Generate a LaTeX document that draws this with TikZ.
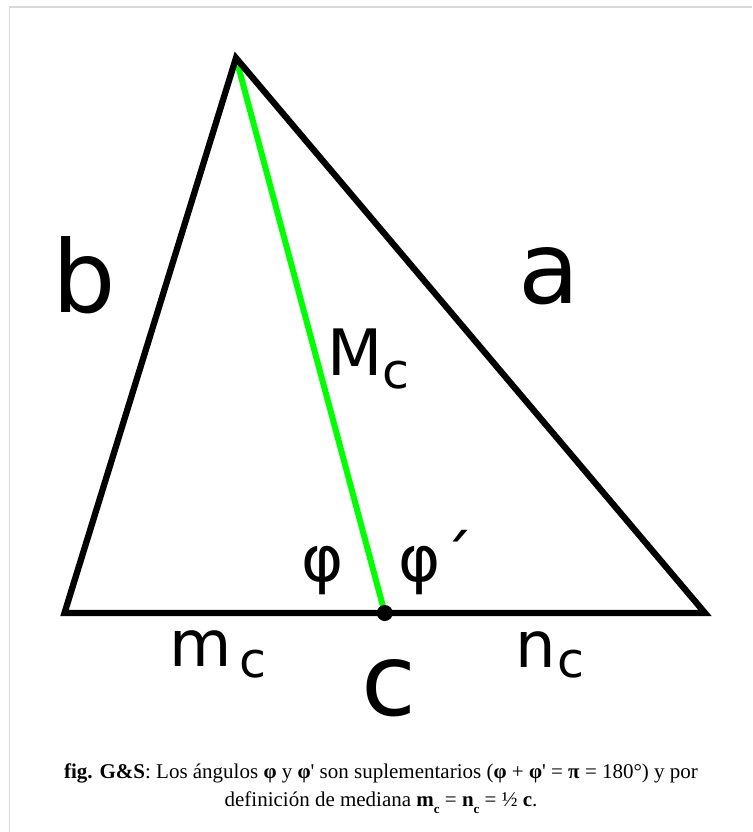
\documentclass[tikz,border=0pt]{standalone}
\usepackage{fontspec}
\setmainfont{Liberation Serif}
\newfontfamily\labfont{DejaVu Sans}
\usepackage{tikz}
\usetikzlibrary{calc}
\definecolor{medc}{HTML}{00FF00}
\definecolor{framec}{HTML}{D8D8D8}
\newcommand{\fsz}[1]{\fontsize{#1}{#1}\selectfont}
\newcommand{\lsub}[2]{\raisebox{#1}{\fsz{49}#2}}
\newcommand{\capsub}[1]{\raisebox{-7pt}{\fsz{13}\textbf{#1}}}
\tikzset{
  side/.style={line width=6.3pt,black,line join=miter},
  med/.style={line width=6pt,medc},
  lbl/.style={inner sep=0pt,font=\labfont\fsz{64}},
  big/.style={inner sep=0pt,font=\labfont\fsz{100}}
}
\begin{document}
\begin{tikzpicture}[x=1pt,y=-1pt]
\useasboundingbox (0,0) rectangle (752,832);
\draw[framec,line width=1.5pt] (9.5,832) -- (9.5,7) -- (752,7);
% vertices of the triangle
\coordinate (A) at (236,58);
\coordinate (B) at (64.5,613);
\coordinate (C) at (705,613);
\coordinate (M) at ($(B)!0.5!(C)$);
\draw[med] (A) -- (M);
\draw[side] (A) -- (B) -- (C) -- cycle;
\fill (M) circle (8);
% side labels
\node[big] (lb) at (84,275) {b};
\node[big] (la) at (549,276) {a};
\node[big] (lc) at (389,688) {c};
\node[lbl,anchor=base west] (lMc) at (327,375) {M\lsub{-13pt}{c}};
\node[lbl,anchor=base west] (lmc) at (169,666) {m\hspace{8pt}\lsub{-11pt}{c}};
\node[lbl,anchor=base west] (lnc) at (515,667) {n\hspace{2pt}\lsub{-10pt}{c}};
% angles at the foot of the median
\node[lbl] (phi1) at (323,571) {φ};
\node[lbl] (phi2) at (420,571) {φ\smash{\rlap{´}}};
% caption
\node[align=center,font=\fontsize{21}{28}\selectfont,anchor=base] (cap) at (381,806)
  {\textbf{fig. G\&S}: Los ángulos \textbf{φ} y \textbf{φ}\textquotesingle{} son suplementarios (\textbf{φ} + \textbf{φ}\textquotesingle{} = \textbf{π} = 180°) y por\\
   definición de mediana \textbf{m}\capsub{c} = \textbf{n}\capsub{c} = ½ \textbf{c}.};
\end{tikzpicture}
\end{document}
